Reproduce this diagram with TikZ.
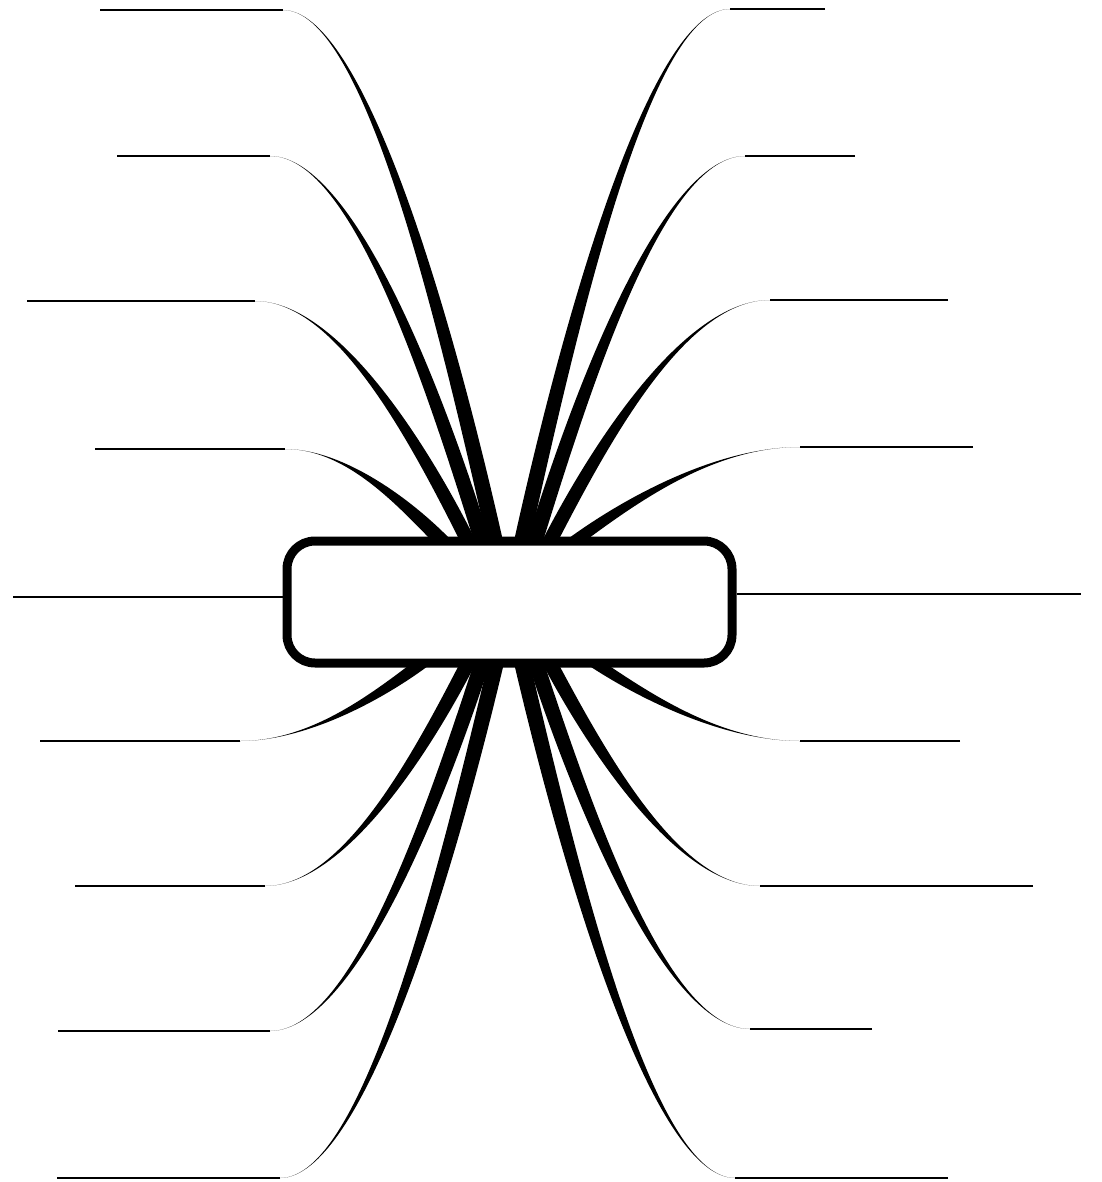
\documentclass[tikz,border=0pt]{standalone}
\usepackage{tikz}
\usetikzlibrary{calc}

\begin{document}
\begin{tikzpicture}[x=1pt,y=-1pt,
    limb/.style={fill=black},
    twig/.style={line width=1.3pt},
    topic/.style={draw,line width=9pt,fill=white,rounded corners=28pt,minimum width=445pt,minimum height=122pt,inner sep=0pt}]
    \useasboundingbox (0,0) rectangle (1101,1182);

    % branches: name / tip x / tip y / line end x / base x / base y / base width
    \foreach \n/\tx/\ty/\ex/\bx/\by/\w in {
        tl1/283/10/100/495/541/16, tl2/270/156/117/482/541/16,
        tl3/255/301/27/468/541/16, tl4/285/449/95/442/541/20,
        tr1/730/9/825/522/541/16, tr2/745/156/855/535/541/16,
        tr3/770/300/948/550/541/16, tr4/800/447/973/575/541/20,
        bl5/240/741/40/422/663/20, bl6/265/886/75/468/663/16,
        bl7/270/1031/58/482/663/16, bl8/280/1178/57/496/663/16,
        br5/800/741/960/595/663/20, br6/760/886/1033/550/663/16,
        br7/750/1029/872/536/663/16, br8/735/1178/948/522/663/16} {
      \pgfmathsetmacro\cax{\tx+0.37*(\bx-\tx)}
      \pgfmathsetmacro\cbx{\bx-0.26*(\bx-\tx)}
      \pgfmathsetmacro\cby{\by-0.46*(\by-\ty)}
      \coordinate (tip-\n) at (\tx,\ty);
      \coordinate (end-\n) at (\ex,\ty);
      \fill[limb] (tip-\n) .. controls (\cax,\ty) and (\cbx-\w/2,\cby) .. (\bx-\w/2,\by)
        -- (\bx+\w/2,\by) .. controls (\cbx+\w/2,\cby) and (\cax,\ty) .. (tip-\n) -- cycle;
      \draw[twig] (end-\n) -- (tip-\n);
    }

    \node[topic] (central) at (509.5,602) {};

    \coordinate (end-l) at (13,597);
    \coordinate (end-r) at (1081,594);
    \draw[twig] (end-l) -- (end-l -| central.west);
    \draw[twig] (central.east |- end-r) -- (end-r);
  \end{tikzpicture}
\end{document}
